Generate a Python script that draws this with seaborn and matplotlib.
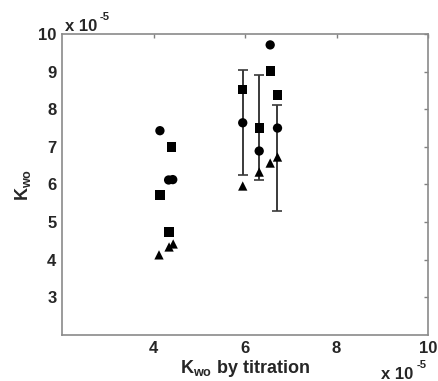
import matplotlib
matplotlib.use("Agg")
import matplotlib.pyplot as plt
import seaborn as sns
import pandas as pd

# data (units of 1e-5)
circle_x = [4.14, 4.33, 4.42, 5.95, 6.31, 6.55, 6.71]
circle_y = [7.43, 6.12, 6.13, 7.64, 6.89, 9.71, 7.50]
square_x = [4.40, 4.14, 4.34, 5.95, 6.31, 6.55, 6.71]
square_y = [7.00, 5.72, 4.74, 8.52, 7.50, 9.02, 8.38]
triangle_x = [4.12, 4.34, 4.43, 5.95, 6.31, 6.55, 6.71]
triangle_y = [4.13, 4.34, 4.42, 5.96, 6.33, 6.57, 6.73]
err_x = [5.95, 6.31, 6.71]
err_y = [7.64, 7.51, 6.71]
err_e = [1.40, 1.39, 1.41]
xticks = [4, 6, 8, 10]
yticks = [3, 4, 5, 6, 7, 8, 9, 10]

sns.set_theme(style="white")
plt.rcParams['font.family'] = ['Liberation Sans', 'DejaVu Sans']
plt.rcParams['font.weight'] = 'bold'
plt.rcParams['mathtext.fontset'] = 'custom'
plt.rcParams['mathtext.rm'] = 'Liberation Sans:bold'
plt.rcParams['mathtext.bf'] = 'Liberation Sans:bold'
plt.rcParams['mathtext.it'] = 'Liberation Sans:bold'

df = pd.DataFrame({
    'x': circle_x + square_x + triangle_x,
    'y': circle_y + square_y + triangle_y,
    'kind': ['circle'] * len(circle_x) + ['square'] * len(square_x) + ['triangle'] * len(triangle_x),
})

fig = plt.figure(figsize=(4.38, 3.81), dpi=100)
ax = fig.add_axes([0.1416, 0.1207, 0.8356, 0.7901])

ax.errorbar(err_x, err_y, yerr=err_e, fmt='none', ecolor='#3a3a3a',
            elinewidth=1.4, capsize=3.5, capthick=1.2, zorder=1)

sns.scatterplot(data=df, x='x', y='y', style='kind',
                markers={'circle': 'o', 'square': 's', 'triangle': '^'},
                color='black', s=45, edgecolor='black', linewidth=0,
                legend=False, ax=ax, zorder=3)

ax.set_xlim(2, 10)
ax.set_ylim(2, 10)
ax.set_xticks(xticks)
ax.set_yticks(yticks)
ax.tick_params(axis='both', which='both', direction='in', length=3, width=1,
               color='#808080', labelsize=12, top=True, right=True,
               labeltop=False, labelright=False, pad=4)
for lab in ax.get_xticklabels() + ax.get_yticklabels():
    lab.set_fontweight('bold')
for sp in ax.spines.values():
    sp.set_color('#8a8a8a')
    sp.set_linewidth(1.2)
    sp.set_visible(True)

ax.set_xlabel(r'$\mathrm{K_{wo}}$ by titration', fontsize=13, fontweight='bold', labelpad=2)
ax.set_ylabel(r'$\mathrm{K_{wo}}$', fontsize=13, fontweight='bold', labelpad=4)

fig.text(65 / 438, 1 - 31 / 381, 'x 10', fontsize=12, fontweight='bold', ha='left', va='baseline')
fig.text(100 / 438, 1 - 20 / 381, '-5', fontsize=8, fontweight='bold', ha='left', va='baseline')
fig.text(381 / 438, 1 - 379 / 381, 'x 10', fontsize=12, fontweight='bold', ha='left', va='baseline')
fig.text(417 / 438, 1 - 368 / 381, '-5', fontsize=8, fontweight='bold', ha='left', va='baseline')

fig.savefig('out.png', dpi=100, facecolor='white')
